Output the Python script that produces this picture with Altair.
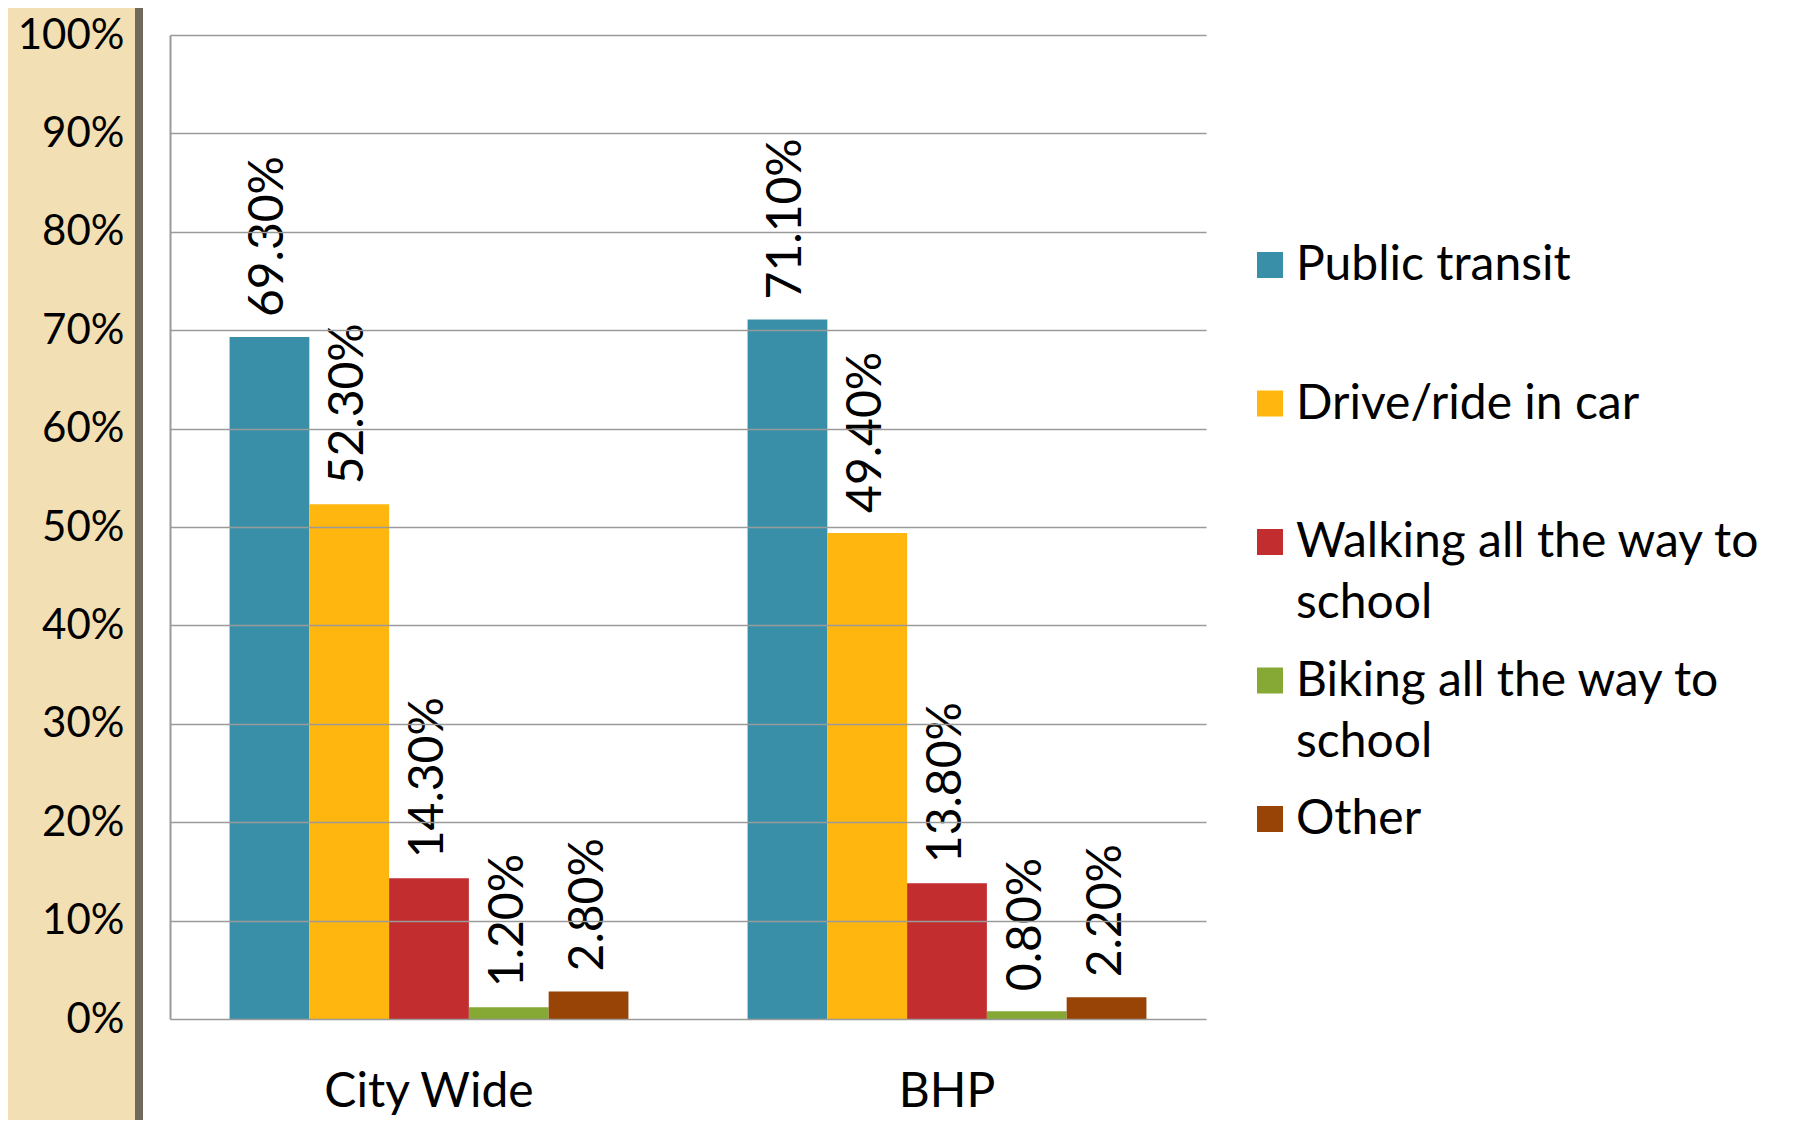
import altair as alt
import pandas as pd

groups = ["City Wide", "BHP"]
modes = ["Public transit", "Drive/ride in car", "Walking all the way to school",
         "Biking all the way to school", "Other"]
legend_text = ["Public transit", "Drive/ride in car", "Walking all the way to\nschool",
               "Biking all the way to\nschool", "Other"]
colors = ["#3A8FA8", "#FFB60F", "#C22D2F", "#86A935", "#984407"]
city_wide = [0.693, 0.523, 0.143, 0.012, 0.028]
bhp = [0.711, 0.494, 0.138, 0.008, 0.022]
y_ticks = [0, 0.1, 0.2, 0.3, 0.4, 0.5, 0.6, 0.7, 0.8, 0.9, 1.0]

rows = []
for g, vals in zip(groups, [city_wide, bhp]):
    for m, v in zip(modes, vals):
        rows.append({"group": g, "mode": m, "value": v})
df = pd.DataFrame(rows)
leg = pd.DataFrame({"mode": modes, "text": legend_text})
one = pd.DataFrame({"k": [0]})

FONT = "Lato"
FS = 48
GRID = "#9A9A9A"
TOTAL_H = 1112
TOP = 27
PLOT_H = 984

x = alt.X("group:N", sort=groups,
          scale=alt.Scale(paddingInner=0.23, paddingOuter=0.115),
          axis=alt.Axis(title=None, labelAngle=0, labelFontSize=FS, labelFont=FONT,
                        labelColor="black", labelPadding=49, labelLimit=0,
                        ticks=False, domain=False))
xo = alt.XOffset("mode:N", sort=modes, scale=alt.Scale(paddingInner=0, paddingOuter=0))
y = alt.Y("value:Q", scale=alt.Scale(domain=[0, 1], nice=False),
          axis=alt.Axis(title=None, format="%", values=y_ticks, labelFontSize=42,
                        labelFont=FONT, labelColor="black", labelPadding=46, ticks=False,
                        domainColor=GRID, domainWidth=2, gridColor=GRID, gridWidth=1.5,
                        zindex=1))
color = alt.Color("mode:N", sort=modes, scale=alt.Scale(domain=modes, range=colors), legend=None)

strip = alt.Chart(one).mark_rect(color="#F2DFB3").encode(
    x=alt.value(-162), x2=alt.value(-35), y=alt.value(-TOP), y2=alt.value(TOTAL_H - TOP))
darkbar = alt.Chart(one).mark_rect(color="#6F6A5C").encode(
    x=alt.value(-35), x2=alt.value(-27), y=alt.value(-TOP), y2=alt.value(TOTAL_H - TOP))

bars = alt.Chart(df).mark_bar().encode(x=x, xOffset=xo, y=y, color=color)
labels = alt.Chart(df).mark_text(angle=270, align="left", baseline="middle", dx=20,
                                 fontSize=FS, font=FONT, color="black").encode(
    x=x, xOffset=xo, y=y, text=alt.Text("value:Q", format=".2%"))

ly = alt.Y("mode:N", sort=modes, axis=None,
           scale=alt.Scale(type="point", range=[230, 784], padding=0))
leg_sq = alt.Chart(leg).mark_square(size=676, opacity=1).encode(
    x=alt.value(1100), y=ly, color=color)
leg_tx = alt.Chart(leg).mark_text(align="left", baseline="alphabetic", dy=15, lineBreak="\n",
                                  lineHeight=61, fontSize=FS, font=FONT, color="black").encode(
    x=alt.value(1126), y=ly, text="text:N")

main = alt.layer(strip, darkbar, bars, labels)
legend = alt.layer(leg_sq, leg_tx)

chart = alt.layer(main, legend).resolve_scale(y="independent").properties(
    width=1036, height=PLOT_H,
    autosize=alt.AutoSizeParams(type="none"),
    padding={"left": 162, "top": TOP, "right": 572, "bottom": TOTAL_H - TOP - PLOT_H},
    background="white",
).configure_view(stroke=None)

chart.save("out.html", embed_options={"renderer": "svg", "actions": False})
